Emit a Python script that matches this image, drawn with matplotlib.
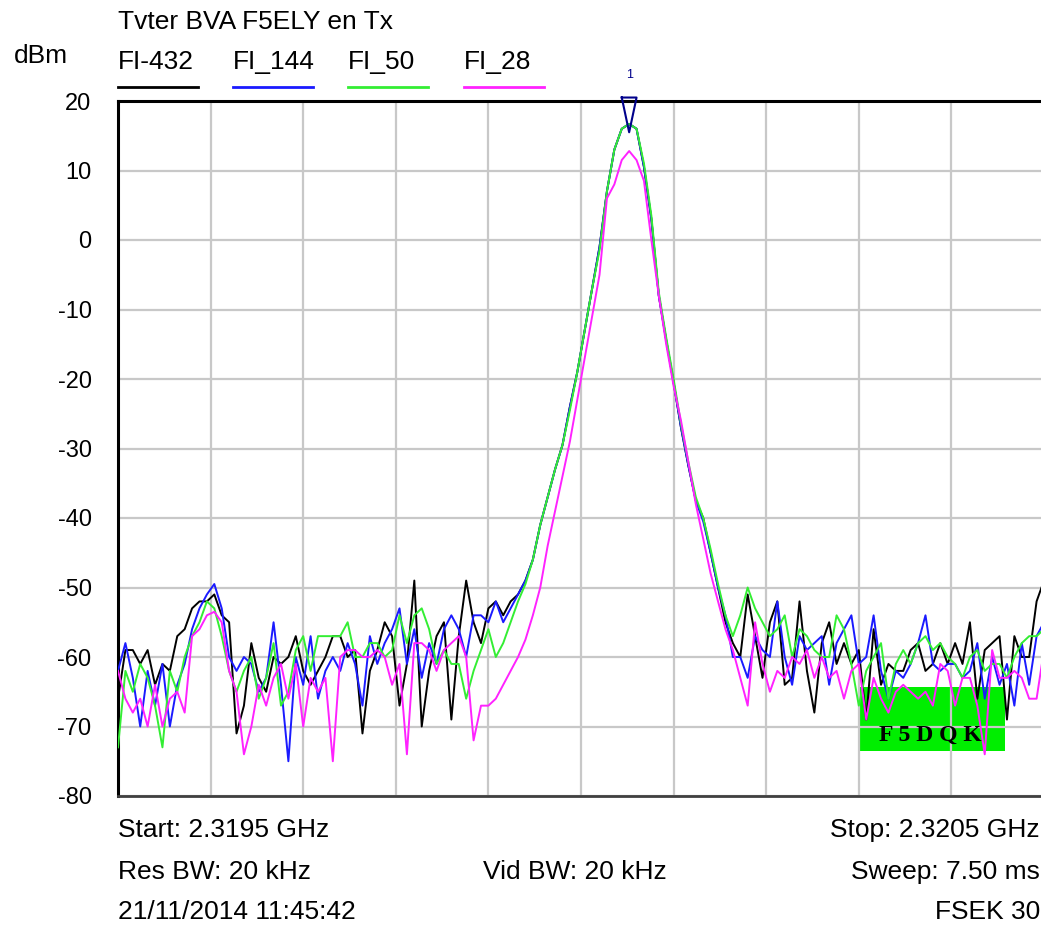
import numpy as np
import matplotlib
matplotlib.use("Agg")
import matplotlib.pyplot as plt
from matplotlib.patches import Rectangle

plt.rcParams['font.family'] = ['Liberation Sans', 'DejaVu Sans']
plt.rcParams['axes.unicode_minus'] = False

# traces (dBm), equal steps from start to stop
fi_432 = [-66, -59, -59, -61, -59, -64, -61, -62, -57, -56, -53, -52, -52, -51, -54, -55, -71, -67, -58, -63,
          -65, -60, -61, -60, -57,
          -62, -64, -62, -60, -57, -57, -60, -59, -71, -62, -59, -55, -57, -67, -61, -49, -70, -62, -57, -55,
          -69, -57, -49, -55, -58, -53, -52,
          -54, -52, -51, -49, -46, -41, -37, -33, -29.5, -24, -19, -13, -7, -1, 7, 13, 16, 16.7, 16, 10.5,
          3, -8, -14.4, -20.5, -27, -32.5, -37.5, -40, -45, -50, -55, -58,
          -60, -51, -57, -63, -55, -52, -64, -63, -52, -62, -68, -58, -55, -61, -58, -61, -59, -69,
          -56, -64, -61, -62, -62, -59, -58, -62, -61, -58, -61, -58, -61, -55, -66, -59, -58, -57, -69, -57,
          -60, -60, -52, -49]
fi_144 = [-62, -58, -63, -70, -62, -67, -61, -70, -64, -61, -56, -53, -51, -49.5, -53, -60, -62, -60, -61, -65,
          -63, -55, -64, -75, -60,
          -64, -57, -66, -62, -60, -62, -58, -61, -67, -57, -61, -58, -56, -53, -61, -56, -63, -58, -61, -56,
          -54, -56, -60, -54, -54, -55, -52,
          -55, -53, -51, -49, -46, -41, -37, -33, -29.5, -24, -19, -13, -7, -1, 7, 13, 16, 16.7, 16, 10.5,
          3, -8, -14.4, -20.5, -27, -32.5, -37.5, -40.5, -45, -50, -54, -60,
          -60, -63, -57, -59, -60, -52, -60, -64, -57, -59, -58, -57, -64, -58, -56, -54, -61, -60,
          -54, -62, -66, -62, -63, -61, -58, -54, -61, -62, -61, -61, -63, -62, -58, -66, -60, -64, -61, -67,
          -58, -64, -57, -55]
fi_50 = [-73, -62, -65, -61, -63, -67, -73, -62, -65, -60, -57, -55, -52, -53, -57, -62, -65, -62, -60, -66,
         -63, -58, -67, -65, -59,
         -57, -62, -57, -57, -57, -57, -55, -60, -60, -58, -58, -60, -59, -54, -58, -54, -53, -56, -61, -59,
         -61, -61, -66, -62, -59, -56, -60,
         -58, -55, -52, -49.5, -46, -41, -37, -33, -29.5, -24.5, -19, -13, -7, -1.5, 7, 13, 16, 16.7, 16, 11,
         3.5, -7.5, -14, -20, -26.5, -32, -37, -40, -44.5, -49.5, -54, -57,
         -54, -50, -53, -55, -57, -56, -54, -60, -56, -57, -59, -60, -60, -54, -56, -61, -67, -62,
         -60, -58, -66, -61, -59, -61, -58, -57, -59, -58, -60, -61, -63, -60, -59, -62, -61, -61, -63, -60,
         -58, -57, -57, -56]
fi_28 = [-62, -66, -68, -66, -70, -64, -70, -66, -65, -68, -57, -56, -54, -53.5, -55, -62, -65, -74, -70, -64,
         -67, -63, -61, -66, -61,
         -70, -63, -65, -63, -75, -60, -59, -59, -60, -60, -59, -60, -64, -61, -74, -58, -58, -59, -62, -59,
         -58, -57, -60, -72, -67, -67, -66,
         -64, -62, -60, -57.5, -54, -50, -44, -39, -34, -29, -23, -17, -11, -5, 6, 8, 11.5, 12.8, 11.5, 8.5,
         0, -8, -15, -21, -26, -32, -38, -43, -48, -52, -56, -59,
         -63, -67, -55, -61, -65, -62, -63, -60, -61, -59, -63, -60, -63, -62, -66, -62, -61, -69,
         -63, -66, -68, -65, -64, -65, -66, -65, -67, -61, -62, -67, -63, -63, -67, -74, -59, -63, -63, -62,
         -63, -66, -66, -59]

names = ['FI-432', 'FI_144', 'FI_50', 'FI_28']
colors = ['#000000', '#1a1aff', '#33ee33', '#ff22ff']
y_ticks = [20, 10, 0, -10, -20, -30, -40, -50, -60, -70, -80]

f_start, f_stop = 2319.5, 2320.5  # MHz
freq = np.linspace(f_start, f_stop, len(fi_432))

fig = plt.figure(figsize=(10.41, 9.25), dpi=100)
ax = fig.add_axes([118 / 1041, 129 / 925, 926 / 1041, 695 / 925])
ax.set_xlim(f_start, f_stop)
ax.set_ylim(-80, 20)

# green logo box, under the grid and the traces
ax.add_patch(Rectangle((f_start + 0.8013, -73.5), 0.1566, 9.2, color='#00ee00', lw=0, zorder=0.5))
ax.text(f_start + 0.877, -71.3, 'F 5 D Q K', family=['Liberation Serif', 'DejaVu Serif'],
        fontweight='bold', fontsize=17, ha='center', va='center', zorder=0.6)

ax.set_xticks(np.linspace(f_start, f_stop, 11))
ax.set_yticks(y_ticks)
ax.set_xticklabels([])
ax.grid(True, color='#c8c8c8', lw=1.6, zorder=1)
ax.set_axisbelow(True)
ax.tick_params(axis='both', length=0)
ax.tick_params(axis='y', pad=19, labelsize=17)

for trace, c in zip([fi_432, fi_144, fi_50, fi_28], colors):
    ax.plot(freq, trace, color=c, lw=1.4, zorder=3)

# marker 1 on the peak
ipk = int(np.argmax(fi_144))
fpk = freq[ipk]
ax.plot([fpk - 0.008, fpk + 0.008, fpk, fpk - 0.008], [20.5, 20.5, 15.5, 20.5],
        color='#00008b', lw=1.5, clip_on=False, zorder=5)
ax.text(fpk, 23.7, '1', color='#00008b', fontsize=9, ha='center', va='center')

for side in ['left', 'top']:
    ax.spines[side].set_linewidth(2.2)
    ax.spines[side].set_color('black')
ax.spines['bottom'].set_linewidth(2)
ax.spines['bottom'].set_color('#404040')
ax.spines['right'].set_visible(False)

# header texts and legend
fs = 19
fig.text(118 / 1041, 1 - 22 / 925, 'Tvter BVA F5ELY en Tx', fontsize=fs, va='center')
fig.text(14 / 1041, 1 - 56 / 925, 'dBm', fontsize=fs, va='center')
leg_x = [118, 233, 348, 464]
for name, c, x0 in zip(names, colors, leg_x):
    fig.text(x0 / 1041, 1 - 62 / 925, name, fontsize=fs, va='center')
    fig.add_artist(plt.Line2D([x0 / 1041, (x0 + 80) / 1041], [1 - 87 / 925, 1 - 87 / 925],
                              color=c, lw=2))

# footer texts
fig.text(118 / 1041, 1 - 830 / 925, 'Start: 2.3195 GHz', fontsize=fs, va='center')
fig.text(1040 / 1041, 1 - 830 / 925, 'Stop: 2.3205 GHz', fontsize=fs, va='center', ha='right')
fig.text(118 / 1041, 1 - 872 / 925, 'Res BW: 20 kHz', fontsize=fs, va='center')
fig.text(483 / 1041, 1 - 872 / 925, 'Vid BW: 20 kHz', fontsize=fs, va='center')
fig.text(1040 / 1041, 1 - 872 / 925, 'Sweep: 7.50 ms', fontsize=fs, va='center', ha='right')
fig.text(118 / 1041, 1 - 912 / 925, '21/11/2014 11:45:42', fontsize=fs, va='center')
fig.text(1040 / 1041, 1 - 912 / 925, 'FSEK 30', fontsize=fs, va='center', ha='right')

fig.savefig('out.png', dpi=100)
